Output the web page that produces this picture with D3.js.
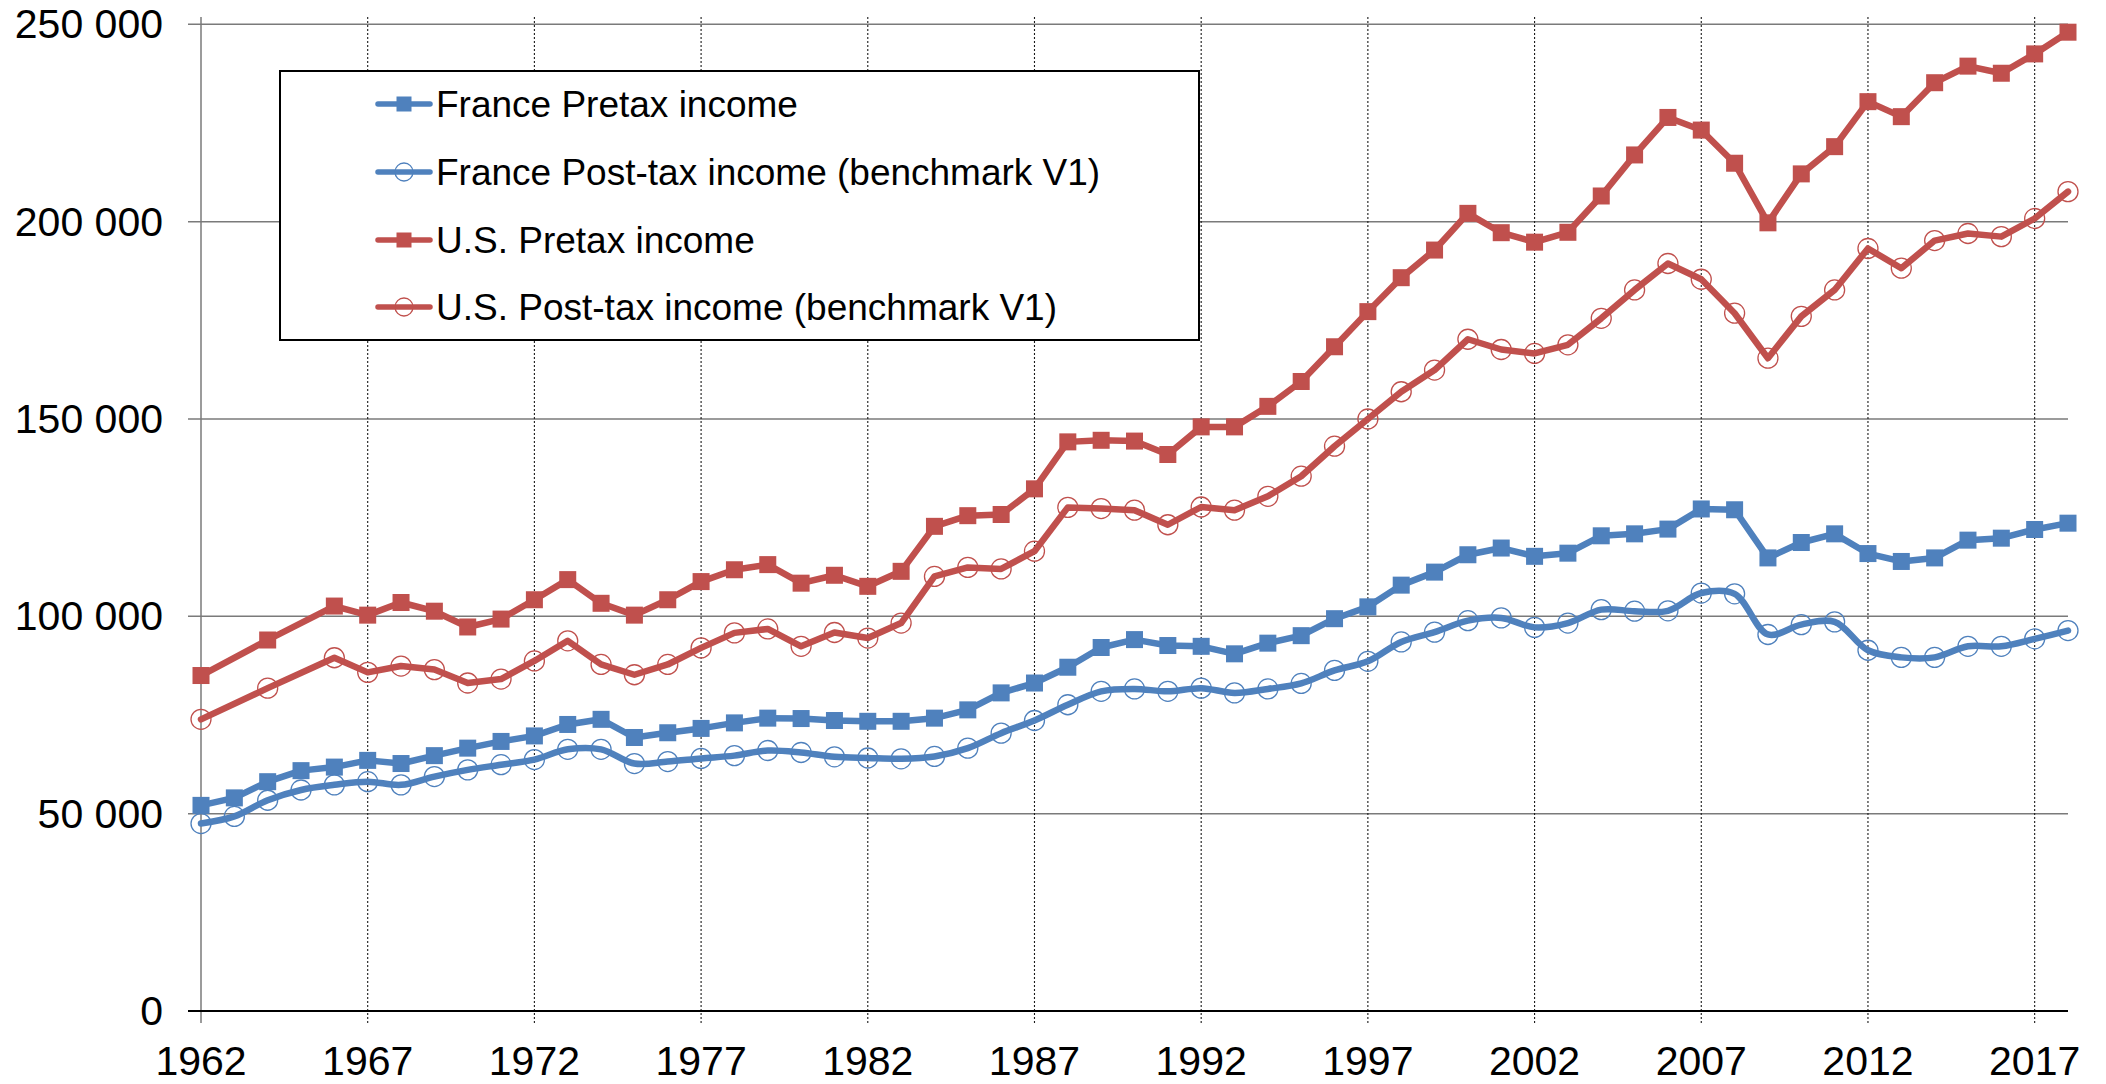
<!DOCTYPE html>
<html>
<head>
<meta charset="utf-8">
<script src="https://cdn.jsdelivr.net/npm/d3@7"></script>
<style>
  html, body { margin: 0; padding: 0; background: #fff; }
  svg { display: block; font-family: "Liberation Sans", Arial, sans-serif; }
</style>
</head>
<body>
<svg id="chart" width="2106" height="1084"></svg>
<script>
// Average income per adult (constant currency), France vs U.S., 1962-2018
const years = [1962,1963,1964,1965,1966,1967,1968,1969,1970,1971,1972,1973,1974,1975,1976,1977,1978,1979,
  1980,1981,1982,1983,1984,1985,1986,1987,1988,1989,1990,1991,1992,1993,1994,1995,1996,1997,1998,1999,
  2000,2001,2002,2003,2004,2005,2006,2007,2008,2009,2010,2011,2012,2013,2014,2015,2016,2017,2018];

const francePretax = [52100,54000,58100,60900,61800,63500,62700,64700,66600,68300,69700,72600,73900,69300,
  70500,71600,73000,74200,74100,73600,73400,73400,74200,76300,80600,83100,87100,92100,94100,92600,92400,
  90500,93200,95100,99400,102400,107900,111200,115600,117300,115200,116000,120400,120900,122100,127200,
  127000,114800,118700,120900,115900,113900,114800,119300,119800,122000,123600];

const francePosttax = [47500,49300,53400,56000,57300,58100,57300,59400,61100,62400,63700,66300,66300,62700,
  63200,64000,64700,66000,65500,64400,64100,63900,64500,66600,70400,73600,77600,81000,81600,81000,81800,
  80600,81600,83000,86300,88600,93500,96000,98900,99600,97200,98300,101700,101300,101400,105900,105700,
  95400,97900,98600,91400,89600,89600,92400,92400,94300,96400];

const usPretax = [85000,null,94000,null,102600,100300,103500,101300,97300,99300,104200,109300,103300,100300,
  104200,108800,111800,113100,108400,110400,107600,111400,122800,125500,125800,132300,144200,144600,144400,
  141000,148000,148000,153200,159500,168300,177200,185800,192800,202100,197200,194800,197300,206500,216900,
  226400,223200,214800,199700,212100,219000,230400,226600,235200,239400,237600,242500,248000];

const usPosttax = [73900,null,81800,null,89500,85800,87400,86500,83100,84100,88700,93800,87800,85200,87800,
  92000,95800,96800,92400,95900,94500,98300,110100,112400,112000,116500,127600,127300,126900,123200,127700,
  126900,130400,135500,143100,150000,156900,162400,170200,167600,166600,168800,175500,182700,189400,185400,
  176800,165400,176000,182700,193200,188200,195200,197000,196200,200800,207600];

const xTickYears = [1962,1967,1972,1977,1982,1987,1992,1997,2002,2007,2012,2017];
const yTickValues = [0,50000,100000,150000,200000,250000];

const seriesNames = [
  "France Pretax income",
  "France Post-tax income (benchmark V1)",
  "U.S. Pretax income",
  "U.S. Post-tax income (benchmark V1)"
];

const BLUE = "#4F81BD", RED = "#C0504D";

const series = [
  { name: seriesNames[0], values: francePretax,  color: BLUE, marker: "square", smooth: false },
  { name: seriesNames[1], values: francePosttax, color: BLUE, marker: "circle", smooth: true  },
  { name: seriesNames[2], values: usPretax,      color: RED,  marker: "square", smooth: false },
  { name: seriesNames[3], values: usPosttax,     color: RED,  marker: "circle", smooth: false }
];

const svg = d3.select("#chart");
const plotLeft = 201, plotRight = 2068, plotBottom = 1011, plotTop = 17;

const x = d3.scaleLinear().domain([1962, 2018]).range([plotLeft, plotRight]);
const y = d3.scaleLinear().domain([0, 251850]).range([plotBottom, plotTop]);

const fmt = d3.formatLocale({ decimal: ",", thousands: " ", grouping: [3], currency: ["", ""] }).format(",");

// Horizontal gridlines (with outward tick)
svg.append("g").selectAll("line").data(yTickValues.filter(v => v > 0)).join("line")
  .attr("x1", plotLeft - 13).attr("x2", plotRight)
  .attr("y1", d => y(d)).attr("y2", d => y(d))
  .attr("stroke", "#7a7a7a").attr("stroke-width", 1.5);

// Vertical dotted gridlines
svg.append("g").selectAll("line").data(xTickYears.filter(v => v > 1962)).join("line")
  .attr("x1", d => x(d)).attr("x2", d => x(d))
  .attr("y1", plotTop).attr("y2", plotBottom + 12)
  .attr("stroke", "#1a1a1a").attr("stroke-width", 1.1)
  .attr("stroke-dasharray", "2,2");

// Y axis line
svg.append("line")
  .attr("x1", plotLeft).attr("x2", plotLeft).attr("y1", plotTop).attr("y2", plotBottom + 12)
  .attr("stroke", "#7a7a7a").attr("stroke-width", 1.5);

// X axis line
svg.append("line")
  .attr("x1", plotLeft - 13).attr("x2", plotRight).attr("y1", y(0)).attr("y2", y(0))
  .attr("stroke", "#000").attr("stroke-width", 2);

// Y tick labels
svg.append("g").selectAll("text").data(yTickValues).join("text")
  .attr("x", 163).attr("y", d => y(d))
  .attr("text-anchor", "end").attr("dominant-baseline", "central")
  .attr("font-size", 41).attr("fill", "#000")
  .text(d => fmt(d));

// X tick labels
svg.append("g").selectAll("text").data(xTickYears).join("text")
  .attr("x", d => x(d)).attr("y", 1075)
  .attr("text-anchor", "middle")
  .attr("font-size", 41).attr("fill", "#000")
  .text(d => d);

function drawMarkers(g, coords, s, sq, r) {
  if (s.marker === "square") {
    g.append("g").selectAll("rect").data(coords).join("rect")
      .attr("x", d => d[0] - sq / 2).attr("y", d => d[1] - sq / 2)
      .attr("width", sq).attr("height", sq)
      .attr("fill", s.color);
  } else {
    g.append("g").selectAll("circle").data(coords).join("circle")
      .attr("cx", d => d[0]).attr("cy", d => d[1]).attr("r", r)
      .attr("fill", "none").attr("stroke", s.color).attr("stroke-width", 1.3);
  }
}

// Series
const plot = svg.append("g");
series.forEach(s => {
  const pts = years.map((yr, i) => ({ yr, v: s.values[i] })).filter(p => p.v != null);
  const line = d3.line().x(p => x(p.yr)).y(p => y(p.v))
    .curve(s.smooth ? d3.curveCatmullRom.alpha(0.5) : d3.curveLinear);
  plot.append("path").datum(pts)
    .attr("d", line).attr("fill", "none")
    .attr("stroke", s.color).attr("stroke-width", 6.5)
    .attr("stroke-linejoin", "round").attr("stroke-linecap", "round");
  drawMarkers(plot, pts.map(p => [x(p.yr), y(p.v)]), s, 17, 10);
});

// Legend
const lg = svg.append("g");
lg.append("rect")
  .attr("x", 280).attr("y", 71).attr("width", 919).attr("height", 269)
  .attr("fill", "#fff").attr("stroke", "#000").attr("stroke-width", 2);
const rowY = [104, 172, 240, 307];
series.forEach((s, i) => {
  const cy = rowY[i];
  lg.append("line").attr("x1", 378).attr("x2", 430).attr("y1", cy).attr("y2", cy)
    .attr("stroke", s.color).attr("stroke-width", 5.5).attr("stroke-linecap", "round");
  drawMarkers(lg, [[404, cy]], s, 15, 9);
  lg.append("text").attr("x", 436).attr("y", cy)
    .attr("dominant-baseline", "central").attr("font-size", 37).attr("fill", "#000")
    .text(s.name);
});
</script>
</body>
</html>
